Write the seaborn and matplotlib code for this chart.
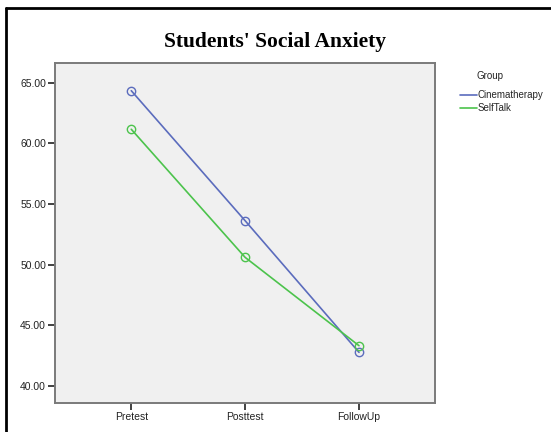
import numpy as np
import pandas as pd
import matplotlib.pyplot as plt
import seaborn as sns
from matplotlib.lines import Line2D

# values
times = ["Pretest", "Posttest", "FollowUp"]
cinematherapy = [64.34, 53.62, 42.77]
selftalk = [61.16, 50.60, 43.32]
groups = ["Cinematherapy", "SelfTalk"]
yticks = [40, 45, 50, 55, 60, 65]

df = pd.DataFrame({
    "Time": times * 2,
    "Score": cinematherapy + selftalk,
    "Group": [groups[0]] * 3 + [groups[1]] * 3,
})

sns.set_style("white")
plt.rcParams["font.family"] = ["Liberation Sans", "DejaVu Sans"]

colors = {"Cinematherapy": "#5b6cbd", "SelfTalk": "#4cc34c"}

fig = plt.figure(figsize=(5.51, 4.32), dpi=100)
ax = fig.add_axes([0.0998, 0.0664, 0.790 - 0.0998, 0.8535 - 0.0664])
ax.set_facecolor("#f0f0f0")

sns.lineplot(data=df, x="Time", y="Score", hue="Group", palette=colors,
             marker="o", markersize=6, markerfacecolor="none",
             linewidth=1.2, ax=ax, legend=False)
for ln in ax.lines:
    ln.set_markeredgecolor(ln.get_color())
    ln.set_markeredgewidth(1.0)

ax.set_xlim(-0.67, 2.67)
ax.set_ylim(38.57, 66.6)
ax.set_yticks(yticks)
ax.set_yticklabels([f"{v:.2f}" for v in yticks])
ax.set_xlabel("")
ax.set_ylabel("")
ax.tick_params(axis="both", direction="out", length=5, width=1.3,
               color="#333333", labelsize=7.5, labelcolor="#222222", pad=1.5,
               left=True, bottom=True)
for s in ax.spines.values():
    s.set_color("#7a7a7a")
    s.set_linewidth(1.4)

fig.text(0.5, 0.903, "Students' Social Anxiety", ha="center", va="center",
         fontsize=15.5, fontweight="bold", family="Liberation Serif", color="black")

# legend: title placed separately so the gap matches
fig.text(490 / 551, 1 - 76 / 432, "Group", ha="center", va="center", fontsize=7,
         color="#222222")
handles = [Line2D([], [], color=colors[g], linewidth=1.2) for g in groups]
fig.legend(handles, groups, loc="upper left",
           bbox_to_anchor=(460 / 551, 1 - 90 / 432), frameon=False, fontsize=7,
           handlelength=1.7, handletextpad=0.15,
           labelspacing=0.35, borderpad=0, borderaxespad=0)

# outer frame: only the top and left edges show in the crop
fig.add_artist(Line2D([0.011, 1.0], [0.9826, 0.9826], transform=fig.transFigure,
                      color="black", linewidth=2))
fig.add_artist(Line2D([0.011, 0.011], [0.0, 0.9826], transform=fig.transFigure,
                      color="black", linewidth=2))

fig.savefig("out.png", dpi=100, facecolor="white")
